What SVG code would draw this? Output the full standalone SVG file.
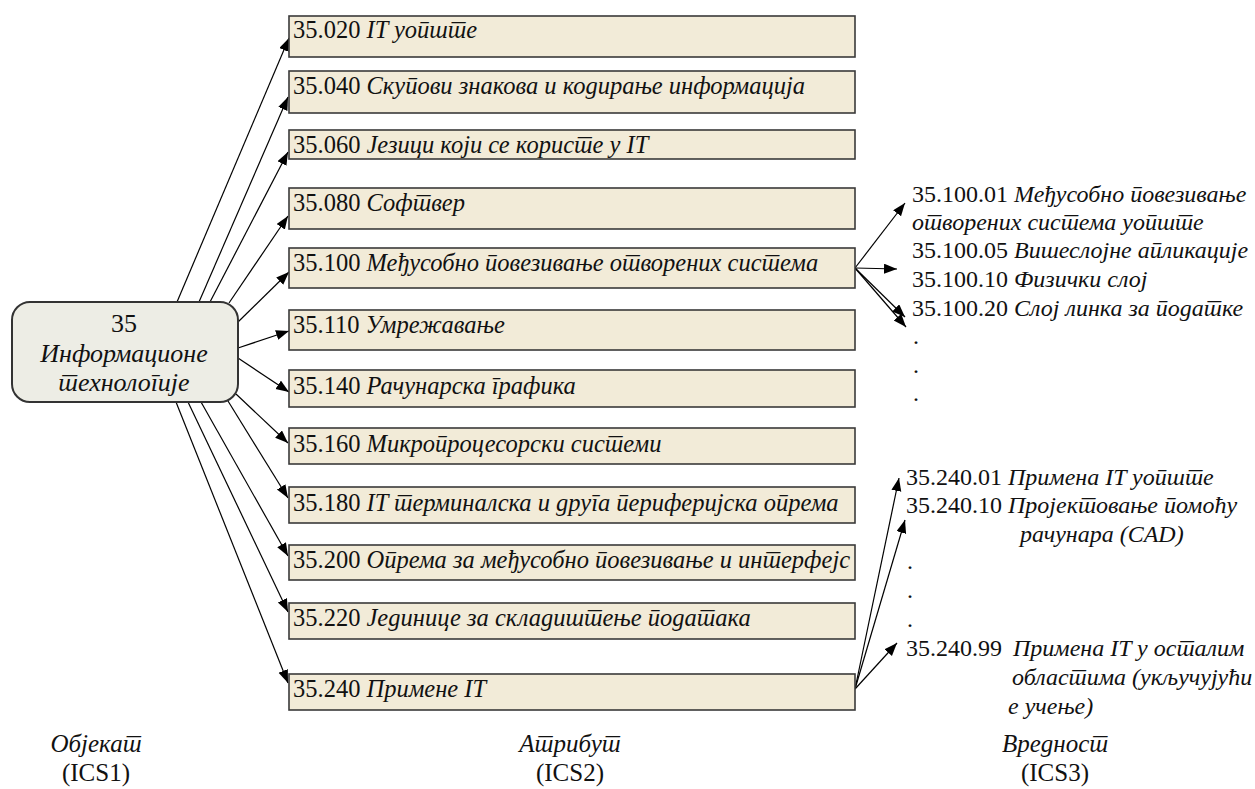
<svg xmlns="http://www.w3.org/2000/svg" width="1255" height="789" viewBox="0 0 1255 789" lang="sr">
  <style>
    .box { fill: #F2EBD8; stroke: #3a3a3a; stroke-width: 1.6; }
    .root { fill: #EDEDE5; stroke: #333; stroke-width: 2; }
    text { font-family: "Liberation Serif", "Times New Roman", serif; fill: #111; }
    .t { font-size: 24.5px; }
    .rt { font-size: 24px; }
    .ct { font-size: 26px; text-anchor: middle; }
    .lab { font-size: 25px; text-anchor: middle; }
    .i { font-style: italic; }
    .edge { stroke: #000; stroke-width: 1.2; fill: none; marker-end: url(#arrow); }
  </style>
  <defs>
    <marker id="arrow" markerUnits="userSpaceOnUse" markerWidth="14" markerHeight="11" refX="13" refY="5" orient="auto">
      <path d="M0,0 L13,5 L0,10 z" fill="#000"/>
    </marker>
  </defs>
  <rect width="1255" height="789" fill="#fff"/>

  <!-- connectors -->
  <g id="connectors">
    <line class="edge" x1="177" y1="302" x2="289" y2="38"/>
    <line class="edge" x1="199" y1="302" x2="288" y2="97"/>
    <line class="edge" x1="210" y1="302" x2="288" y2="152"/>
    <line class="edge" x1="229" y1="303" x2="288" y2="216"/>
    <line class="edge" x1="238" y1="322" x2="289" y2="272"/>
    <line class="edge" x1="238" y1="348" x2="289" y2="331"/>
    <line class="edge" x1="238" y1="358" x2="289" y2="392"/>
    <line class="edge" x1="236" y1="394" x2="288" y2="443"/>
    <line class="edge" x1="228" y1="401" x2="288" y2="498"/>
    <line class="edge" x1="201" y1="402" x2="288" y2="556"/>
    <line class="edge" x1="188" y1="402" x2="288" y2="612"/>
    <line class="edge" x1="176" y1="402" x2="288" y2="683"/>

    <line class="edge" x1="855" y1="268" x2="905" y2="203"/>
    <line class="edge" x1="855" y1="268" x2="897" y2="269"/>
    <line class="edge" x1="855" y1="268" x2="905" y2="317"/>
    <line class="edge" x1="855" y1="268" x2="906" y2="327"/>

    <line class="edge" x1="855" y1="689" x2="899" y2="478"/>
    <line class="edge" x1="855" y1="689" x2="905" y2="520"/>
    <line class="edge" x1="855" y1="689" x2="897" y2="643"/>
  </g>

  <!-- object (ICS1) -->
  <g id="node-35">
    <rect class="root" x="12" y="302" width="226" height="100" rx="18"/>
    <text class="ct" x="124" y="332">35</text>
    <text class="ct i" x="124" y="362">Информационе</text>
    <text class="ct i" x="124" y="391">технологије</text>
  </g>

  <!-- attributes (ICS2) -->
  <g id="node-35-020">
    <rect class="box" x="289" y="16" width="566" height="41"/>
    <text class="t" x="293" y="38">35.020 <tspan class="i">IT уопште</tspan></text>
  </g>
  <g id="node-35-040">
    <rect class="box" x="289" y="71" width="566" height="42"/>
    <text class="t" x="293" y="94">35.040 <tspan class="i">Скупови знакова и кодирање информација</tspan></text>
  </g>
  <g id="node-35-060">
    <rect class="box" x="289" y="130" width="566" height="29"/>
    <text class="t" x="293" y="153">35.060 <tspan class="i">Језици који се користе у IT</tspan></text>
  </g>
  <g id="node-35-080">
    <rect class="box" x="289" y="188" width="566" height="41"/>
    <text class="t" x="293" y="211">35.080 <tspan class="i">Софтвер</tspan></text>
  </g>
  <g id="node-35-100">
    <rect class="box" x="289" y="248" width="566" height="40"/>
    <text class="t" x="293" y="271">35.100 <tspan class="i">Међусобно повезивање отворених система</tspan></text>
  </g>
  <g id="node-35-110">
    <rect class="box" x="289" y="310" width="566" height="40"/>
    <text class="t" x="293" y="333">35.110 <tspan class="i">Умрежавање</tspan></text>
  </g>
  <g id="node-35-140">
    <rect class="box" x="289" y="370" width="566" height="37"/>
    <text class="t" x="293" y="394">35.140 <tspan class="i">Рачунарска графика</tspan></text>
  </g>
  <g id="node-35-160">
    <rect class="box" x="289" y="428" width="566" height="36"/>
    <text class="t" x="293" y="452">35.160 <tspan class="i">Микропроцесорски системи</tspan></text>
  </g>
  <g id="node-35-180">
    <rect class="box" x="289" y="487" width="566" height="36"/>
    <text class="t" x="293" y="511">35.180 <tspan class="i">IT терминалска и друга периферијска опрема</tspan></text>
  </g>
  <g id="node-35-200">
    <rect class="box" x="289" y="545" width="566" height="35"/>
    <text class="t" x="293" y="568">35.200 <tspan class="i">Опрема за међусобно повезивање и интерфејс</tspan></text>
  </g>
  <g id="node-35-220">
    <rect class="box" x="289" y="603" width="566" height="36"/>
    <text class="t" x="293" y="626">35.220 <tspan class="i">Јединице за складиштење података</tspan></text>
  </g>
  <g id="node-35-240">
    <rect class="box" x="289" y="674" width="566" height="36"/>
    <text class="t" x="293" y="697">35.240 <tspan class="i">Примене IT</tspan></text>
  </g>

  <!-- values (ICS3) -->
  <g id="values-35-100">
    <text class="rt" x="912" y="202">35.100.01 <tspan class="i">Међусобно повезивање</tspan></text>
    <text class="rt i" x="912" y="230">отворених система уопште</text>
    <text class="rt" x="912" y="258">35.100.05 <tspan class="i">Вишеслојне апликације</tspan></text>
    <text class="rt" x="912" y="287">35.100.10 <tspan class="i">Физички слој</tspan></text>
    <text class="rt" x="912" y="316">35.100.20 <tspan class="i">Слој линка за податке</tspan></text>
    <text class="rt" x="913" y="344">.</text>
    <text class="rt" x="913" y="373">.</text>
    <text class="rt" x="913" y="401">.</text>
  </g>
  <g id="values-35-240">
    <text class="rt" x="906" y="485">35.240.01 <tspan class="i">Примена IT уопште</tspan></text>
    <text class="rt" x="906" y="513">35.240.10 <tspan class="i">Пројектовање помоћу</tspan></text>
    <text class="rt i" x="1020" y="542">рачунара (CAD)</text>
    <text class="rt" x="907" y="569">.</text>
    <text class="rt" x="907" y="598">.</text>
    <text class="rt" x="907" y="627">.</text>
    <text class="rt" x="906" y="656">35.240.99 <tspan class="i" dx="5">Примена IT у осталим</tspan></text>
    <text class="rt i" x="1012" y="685">областима (укључујући</text>
    <text class="rt i" x="1008" y="714">е учење)</text>
  </g>

  <!-- level captions -->
  <g id="captions">
    <text class="lab i" x="96" y="752">Објекат</text>
    <text class="lab" x="96" y="781">(ICS1)</text>
    <text class="lab i" x="570" y="752">Атрибут</text>
    <text class="lab" x="570" y="781">(ICS2)</text>
    <text class="lab i" x="1055" y="752">Вредност</text>
    <text class="lab" x="1055" y="781">(ICS3)</text>
  </g>
</svg>
